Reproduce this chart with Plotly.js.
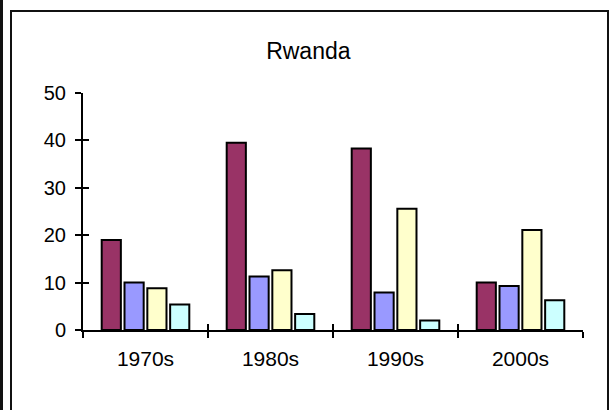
<!DOCTYPE html>
<html>
<head>
<meta charset="utf-8">
<script src="https://cdn.plot.ly/plotly-3.0.1.min.js"></script>
<style>
  html, body { margin: 0; padding: 0; background: #fff; overflow: hidden; }
  #wrap { position: relative; width: 613px; height: 410px; }
  #chart { position: absolute; left: 0; top: 0; width: 613px; height: 410px; }
  .frame { position: absolute; pointer-events: none; box-sizing: border-box; }
</style>
</head>
<body>
<div id="wrap">
  <div id="chart"></div>
  <div class="frame" style="left:0px; top:0px; width:3px; height:410px; background:#111;"></div>
  <div class="frame" style="left:10px; top:10px; width:599px; height:420px; border:2.5px solid #111; border-bottom:none;"></div>
</div>
<script>
const categories = ["1970s", "1980s", "1990s", "2000s"];
const series1 = [19.0, 39.5, 38.3, 10.0];
const series2 = [10.0, 11.3, 7.9, 9.3];
const series3 = [8.8, 12.6, 25.6, 21.1];
const series4 = [5.4, 3.4, 2.0, 6.3];
const seriesNames = ["Series 1", "Series 2", "Series 3", "Series 4"];
const seriesColors = ["#993366", "#9999FF", "#FFFFCC", "#CCFFFF"];
const yTicks = [0, 10, 20, 30, 40, 50];
const boundaryTicks = [-0.5, 0.5, 1.5, 2.5, 3.5];

const allSeries = [series1, series2, series3, series4];
const traces = allSeries.map((vals, i) => ({
  type: "bar",
  name: seriesNames[i],
  x: categories,
  y: vals,
  marker: { color: seriesColors[i], line: { color: "#000", width: 2 } },
  hoverinfo: "x+y"
}));

const font = { family: "Liberation Sans, Arial, sans-serif", color: "#000" };

const layout = {
  width: 613,
  height: 410,
  margin: { l: 83, r: 30, t: 93, b: 80, pad: 0 },
  paper_bgcolor: "#fff",
  plot_bgcolor: "#fff",
  showlegend: false,
  barmode: "group",
  bargap: 0.27,
  bargroupgap: 0.16,
  font: font,
  title: {
    text: "Rwanda",
    font: { family: font.family, size: 23, color: "#000" },
    x: 0.503, xref: "container", xanchor: "center",
    y: 0.875, yref: "container", yanchor: "middle"
  },
  xaxis: {
    type: "category",
    categoryorder: "array",
    categoryarray: categories,
    range: [-0.5, 3.5],
    showline: true, linecolor: "#000", linewidth: 2,
    ticks: "outside", tickson: "boundaries", ticklen: 6, tickwidth: 2, tickcolor: "#000",
    tickfont: { family: font.family, size: 21, color: "#000" },
    ticklabelstandoff: 9,
    showgrid: false, zeroline: false, fixedrange: true
  },
  yaxis: {
    range: [0, 50],
    tickvals: yTicks,
    showline: true, linecolor: "#000", linewidth: 2,
    ticks: "outside", ticklen: 6, tickwidth: 2, tickcolor: "#000",
    tickfont: { family: font.family, size: 20, color: "#000" },
    ticklabelstandoff: 5,
    showgrid: false, zeroline: false, fixedrange: true
  },
  xaxis2: {
    overlaying: "x",
    anchor: "y2",
    side: "bottom",
    range: [-0.5, 3.5],
    tickvals: boundaryTicks,
    ticks: "inside", ticklen: 6, tickwidth: 2, tickcolor: "#000",
    showticklabels: false, showline: false, showgrid: false, zeroline: false, fixedrange: true
  },
  yaxis2: {
    overlaying: "y",
    anchor: "x2",
    side: "left",
    range: [0, 50],
    tickvals: yTicks,
    ticks: "inside", ticklen: 6, tickwidth: 2, tickcolor: "#000",
    showticklabels: false, showline: false, showgrid: false, zeroline: false, fixedrange: true
  }
};

// invisible helper trace so the overlaid tick axes are drawn
traces.push({
  type: "scatter", x: [0], y: [0], xaxis: "x2", yaxis: "y2",
  mode: "markers", marker: { opacity: 0 }, hoverinfo: "skip", showlegend: false
});

Plotly.newPlot("chart", traces, layout, { displayModeBar: false, staticPlot: true });
</script>
</body>
</html>
